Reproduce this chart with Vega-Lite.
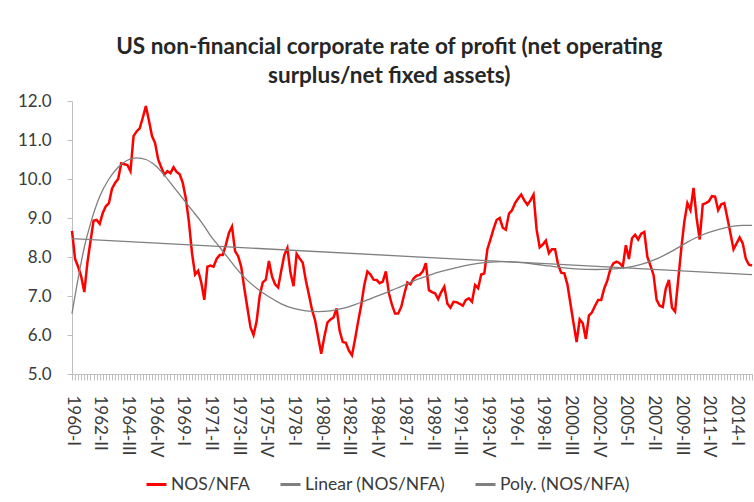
{
  "$schema": "https://vega.github.io/schema/vega-lite/v6.json",
  "width": 680,
  "height": 273,
  "autosize": {"type": "none"},
  "padding": {"left": 72, "top": 101, "right": 2, "bottom": 128},
  "background": "white",
  "title": {
    "text": ["US non-financial corporate rate of profit (net operating", "surplus/net fixed assets)"],
    "frame": "bounds",
    "anchor": "middle",
    "font": "Lato",
    "fontSize": 22.5,
    "fontWeight": "bold",
    "color": "#262626",
    "lineHeight": 29,
    "offset": 5
  },
  "config": {
    "view": {"stroke": null},
    "axis": {"labelFont": "Lato", "labelFontSize": 17, "labelColor": "#3a3a3a", "domainColor": "#bfbfbf", "tickColor": "#bfbfbf", "grid": false, "title": null},
    "legend": {"labelFont": "Lato", "labelFontSize": 17.5, "labelColor": "#3a3a3a"}
  },
  "datasets": {
    "nos": [
      {"i":0,"v":8.67},{"i":1,"v":7.95},{"i":2,"v":7.75},{"i":3,"v":7.5},{"i":4,"v":7.1},{"i":5,"v":7.85},{"i":6,"v":8.4},{"i":7,"v":8.93},{"i":8,"v":8.95},{"i":9,"v":8.85},
      {"i":10,"v":9.13},{"i":11,"v":9.3},{"i":12,"v":9.38},{"i":13,"v":9.75},{"i":14,"v":9.9},{"i":15,"v":10.0},{"i":16,"v":10.4},{"i":17,"v":10.38},{"i":18,"v":10.36},{"i":19,"v":10.2},
      {"i":20,"v":11.1},{"i":21,"v":11.22},{"i":22,"v":11.3},{"i":23,"v":11.57},{"i":24,"v":11.87},{"i":25,"v":11.5},{"i":26,"v":11.1},{"i":27,"v":10.92},{"i":28,"v":10.5},{"i":29,"v":10.3},
      {"i":30,"v":10.11},{"i":31,"v":10.2},{"i":32,"v":10.15},{"i":33,"v":10.3},{"i":34,"v":10.18},{"i":35,"v":10.12},{"i":36,"v":9.9},{"i":37,"v":9.5},{"i":38,"v":8.9},{"i":39,"v":8.1},
      {"i":40,"v":7.55},{"i":41,"v":7.65},{"i":42,"v":7.35},{"i":43,"v":6.9},{"i":44,"v":7.75},{"i":45,"v":7.78},{"i":46,"v":7.75},{"i":47,"v":7.95},{"i":48,"v":8.05},{"i":49,"v":8.05},
      {"i":50,"v":8.31},{"i":51,"v":8.62},{"i":52,"v":8.78},{"i":53,"v":8.15},{"i":54,"v":8.02},{"i":55,"v":7.75},{"i":56,"v":7.2},{"i":57,"v":6.7},{"i":58,"v":6.2},{"i":59,"v":6.0},
      {"i":60,"v":6.35},{"i":61,"v":7.0},{"i":62,"v":7.35},{"i":63,"v":7.42},{"i":64,"v":7.9},{"i":65,"v":7.5},{"i":66,"v":7.3},{"i":67,"v":7.22},{"i":68,"v":7.65},{"i":69,"v":8.05},
      {"i":70,"v":8.23},{"i":71,"v":7.6},{"i":72,"v":7.25},{"i":73,"v":8.08},{"i":74,"v":7.96},{"i":75,"v":7.85},{"i":76,"v":7.4},{"i":77,"v":7.03},{"i":78,"v":6.65},{"i":79,"v":6.38},
      {"i":80,"v":5.95},{"i":81,"v":5.52},{"i":82,"v":5.95},{"i":83,"v":6.32},{"i":84,"v":6.4},{"i":85,"v":6.45},{"i":86,"v":6.68},{"i":87,"v":6.1},{"i":88,"v":5.82},{"i":89,"v":5.8},
      {"i":90,"v":5.6},{"i":91,"v":5.48},{"i":92,"v":5.9},{"i":93,"v":6.35},{"i":94,"v":6.77},{"i":95,"v":7.28},{"i":96,"v":7.63},{"i":97,"v":7.55},{"i":98,"v":7.42},{"i":99,"v":7.41},
      {"i":100,"v":7.33},{"i":101,"v":7.37},{"i":102,"v":7.63},{"i":103,"v":7.07},{"i":104,"v":6.77},{"i":105,"v":6.55},{"i":106,"v":6.55},{"i":107,"v":6.72},{"i":108,"v":7.05},{"i":109,"v":7.35},
      {"i":110,"v":7.3},{"i":111,"v":7.45},{"i":112,"v":7.52},{"i":113,"v":7.54},{"i":114,"v":7.63},{"i":115,"v":7.84},{"i":116,"v":7.15},{"i":117,"v":7.1},{"i":118,"v":7.07},{"i":119,"v":6.92},
      {"i":120,"v":7.1},{"i":121,"v":7.24},{"i":122,"v":6.8},{"i":123,"v":6.7},{"i":124,"v":6.85},{"i":125,"v":6.84},{"i":126,"v":6.8},{"i":127,"v":6.75},{"i":128,"v":6.9},{"i":129,"v":6.94},
      {"i":130,"v":6.85},{"i":131,"v":7.28},{"i":132,"v":7.2},{"i":133,"v":7.55},{"i":134,"v":7.58},{"i":135,"v":8.2},{"i":136,"v":8.45},{"i":137,"v":8.72},{"i":138,"v":8.95},{"i":139,"v":9.0},
      {"i":140,"v":8.75},{"i":141,"v":8.7},{"i":142,"v":9.11},{"i":143,"v":9.2},{"i":144,"v":9.38},{"i":145,"v":9.5},{"i":146,"v":9.6},{"i":147,"v":9.45},{"i":148,"v":9.34},{"i":149,"v":9.45},
      {"i":150,"v":9.6},{"i":151,"v":8.7},{"i":152,"v":8.25},{"i":153,"v":8.32},{"i":154,"v":8.42},{"i":155,"v":8.1},{"i":156,"v":8.2},{"i":157,"v":8.2},{"i":158,"v":7.8},{"i":159,"v":7.6},
      {"i":160,"v":7.58},{"i":161,"v":7.3},{"i":162,"v":6.8},{"i":163,"v":6.3},{"i":164,"v":5.82},{"i":165,"v":6.4},{"i":166,"v":6.3},{"i":167,"v":5.9},{"i":168,"v":6.5},{"i":169,"v":6.58},
      {"i":170,"v":6.75},{"i":171,"v":6.9},{"i":172,"v":6.9},{"i":173,"v":7.2},{"i":174,"v":7.4},{"i":175,"v":7.7},{"i":176,"v":7.84},{"i":177,"v":7.88},{"i":178,"v":7.84},{"i":179,"v":7.75},
      {"i":180,"v":8.3},{"i":181,"v":7.95},{"i":182,"v":8.48},{"i":183,"v":8.57},{"i":184,"v":8.45},{"i":185,"v":8.6},{"i":186,"v":8.64},{"i":187,"v":8.0},{"i":188,"v":7.78},{"i":189,"v":7.54},
      {"i":190,"v":6.9},{"i":191,"v":6.75},{"i":192,"v":6.72},{"i":193,"v":7.2},{"i":194,"v":7.41},{"i":195,"v":6.7},{"i":196,"v":6.6},{"i":197,"v":7.4},{"i":198,"v":8.2},{"i":199,"v":8.9},
      {"i":200,"v":9.38},{"i":201,"v":9.2},{"i":202,"v":9.77},{"i":203,"v":9.0},{"i":204,"v":8.45},{"i":205,"v":9.35},{"i":206,"v":9.38},{"i":207,"v":9.43},{"i":208,"v":9.56},{"i":209,"v":9.55},
      {"i":210,"v":9.2},{"i":211,"v":9.35},{"i":212,"v":9.38},{"i":213,"v":9.0},{"i":214,"v":8.6},{"i":215,"v":8.2},{"i":216,"v":8.35},{"i":217,"v":8.5},{"i":218,"v":8.35},{"i":219,"v":7.95},
      {"i":220,"v":7.8},{"i":221,"v":7.78}
    ],
    "linear": [
      {"i":0,"v":8.47},{"i":221,"v":7.55}
    ],
    "poly": [
      {"i":0,"v":6.55},{"i":2,"v":7.45},{"i":4,"v":8.25},{"i":6,"v":8.85},{"i":9,"v":9.55},{"i":12,"v":10.0},{"i":15,"v":10.3},{"i":18,"v":10.48},{"i":21,"v":10.54},{"i":24,"v":10.5},
      {"i":27,"v":10.35},{"i":30,"v":10.1},{"i":33,"v":9.8},{"i":36,"v":9.5},{"i":39,"v":9.2},{"i":42,"v":8.9},{"i":45,"v":8.55},{"i":48,"v":8.25},{"i":51,"v":7.95},{"i":54,"v":7.65},
      {"i":57,"v":7.4},{"i":60,"v":7.2},{"i":64,"v":6.98},{"i":68,"v":6.8},{"i":72,"v":6.68},{"i":76,"v":6.62},{"i":80,"v":6.6},{"i":84,"v":6.62},{"i":88,"v":6.68},{"i":92,"v":6.78},
      {"i":96,"v":6.9},{"i":100,"v":7.02},{"i":104,"v":7.15},{"i":108,"v":7.28},{"i":112,"v":7.42},{"i":116,"v":7.53},{"i":120,"v":7.63},{"i":125,"v":7.73},{"i":130,"v":7.81},{"i":135,"v":7.86},
      {"i":140,"v":7.88},{"i":145,"v":7.86},{"i":150,"v":7.82},{"i":155,"v":7.77},{"i":160,"v":7.72},{"i":165,"v":7.69},{"i":170,"v":7.68},{"i":175,"v":7.69},{"i":180,"v":7.73},{"i":185,"v":7.81},
      {"i":190,"v":7.95},{"i":195,"v":8.15},{"i":200,"v":8.38},{"i":205,"v":8.57},{"i":210,"v":8.7},{"i":215,"v":8.79},{"i":218,"v":8.81},{"i":221,"v":8.81}
    ]
  },
  "encoding": {
    "x": {
      "field": "i", "type": "quantitative",
      "scale": {"domain": [0, 221], "nice": false, "zero": false},
      "axis": {
        "values": [0,1,2,3,4,5,6,7,8,9,10,11,12,13,14,15,16,17,18,19,20,21,22,23,24,25,26,27,28,29,30,31,32,33,34,35,36,37,38,39,40,41,42,43,44,45,46,47,48,49,50,51,52,53,54,55,56,57,58,59,60,61,62,63,64,65,66,67,68,69,70,71,72,73,74,75,76,77,78,79,80,81,82,83,84,85,86,87,88,89,90,91,92,93,94,95,96,97,98,99,100,101,102,103,104,105,106,107,108,109,110,111,112,113,114,115,116,117,118,119,120,121,122,123,124,125,126,127,128,129,130,131,132,133,134,135,136,137,138,139,140,141,142,143,144,145,146,147,148,149,150,151,152,153,154,155,156,157,158,159,160,161,162,163,164,165,166,167,168,169,170,171,172,173,174,175,176,177,178,179,180,181,182,183,184,185,186,187,188,189,190,191,192,193,194,195,196,197,198,199,200,201,202,203,204,205,206,207,208,209,210,211,212,213,214,215,216,217,218,219,220,221],
        "labelExpr": "datum.value % 9 == 0 ? (1960 + floor(datum.value / 4)) + '-' + ['I','II','III','IV'][datum.value % 4] : ''",
        "labelAngle": 90,
        "labelOverlap": false,
        "labelFlush": false,
        "labelBound": false,
        "tickSize": 6,
        "labelPadding": 15
      }
    },
    "y": {
      "field": "v", "type": "quantitative",
      "scale": {"domain": [5, 12], "nice": false, "zero": false},
      "axis": {"values": [5,6,7,8,9,10,11,12], "format": ".1f", "tickSize": 5, "labelPadding": 16}
    }
  },
  "layer": [
    {
      "data": {"name": "nos"},
      "mark": {"type": "line", "strokeWidth": 2.5},
      "encoding": {
        "color": {
          "datum": "NOS/NFA",
          "scale": {"domain": ["NOS/NFA", "Linear (NOS/NFA)", "Poly. (NOS/NFA)"], "range": ["#ff0000", "#7f7f7f", "#7f7f7f"]},
          "legend": {"title": null, "orient": "none", "direction": "horizontal", "legendX": 73, "legendY": 372, "symbolType": "stroke", "symbolSize": 400, "symbolStrokeWidth": 3, "columnPadding": 24, "labelOffset": 3}
        }
      }
    },
    {
      "data": {"name": "linear"},
      "mark": {"type": "line", "strokeWidth": 1.3},
      "encoding": {"color": {"datum": "Linear (NOS/NFA)"}}
    },
    {
      "data": {"name": "poly"},
      "mark": {"type": "line", "strokeWidth": 1.3, "interpolate": "monotone"},
      "encoding": {"color": {"datum": "Poly. (NOS/NFA)"}}
    }
  ]
}
